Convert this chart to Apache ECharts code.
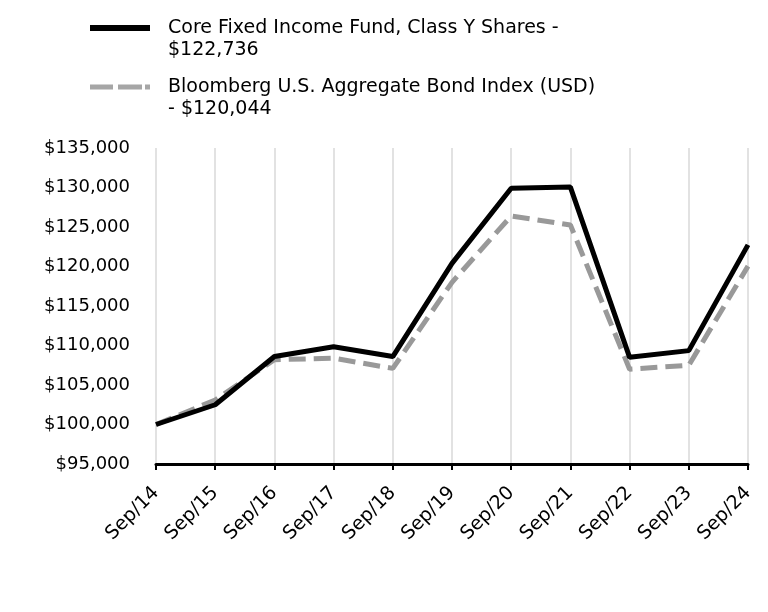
<!DOCTYPE html>
<html>
<head>
<meta charset="utf-8">
<script src="https://cdn.jsdelivr.net/npm/echarts@6/dist/echarts.min.js"></script>
<style>
  html, body { margin: 0; padding: 0; background: #fff; }
  #chart { width: 768px; height: 612px; }
</style>
</head>
<body>
<div id="chart"></div>
<script>
const years = ['Sep/14', 'Sep/15', 'Sep/16', 'Sep/17', 'Sep/18', 'Sep/19', 'Sep/20', 'Sep/21', 'Sep/22', 'Sep/23', 'Sep/24'];
const fundName = 'Core Fixed Income Fund, Class Y Shares - $122,736';
const indexName = 'Bloomberg U.S. Aggregate Bond Index (USD) - $120,044';
const fundValues = [100000, 102500, 108600, 109850, 108600, 120400, 129900, 130050, 108500, 109350, 122736];
const indexValues = [100000, 103100, 108200, 108400, 107100, 118000, 126400, 125250, 107000, 107500, 120044];

const FONT = 'DejaVu Sans';

// legend icons: bar at the first text line, tiny corner dots keep the box size
const BOX = 'M0,0H.01V.01H0Z M72.99,43.99H73V44H72.99Z ';
const solidIcon = 'path://' + BOX + 'M0,8H60V14H0Z';
const dashIcon = 'path://' + BOX + 'M0,8.5H23V13.5H0Z M28,8.5H52V13.5H28Z M55,8.5H60V13.5H55Z';

const chart = echarts.init(document.getElementById('chart'));
const option = {
  animation: false,
  textStyle: { fontFamily: FONT },
  legend: {
    orient: 'vertical',
    left: 85,
    top: 12,
    itemWidth: 73,
    itemHeight: 44,
    itemGap: 15,
    textStyle: { fontFamily: FONT, fontSize: 19, color: '#000', lineHeight: 22 },
    formatter: function (name) {
      if (name === fundName) return 'Core Fixed Income Fund, Class Y Shares -\n$122,736';
      return 'Bloomberg U.S. Aggregate Bond Index (USD)\n- $120,044';
    },
    data: [
      { name: fundName, icon: solidIcon, itemStyle: { color: '#000' } },
      { name: indexName, icon: dashIcon, itemStyle: { color: '#a6a6a6' } }
    ]
  },
  grid: { left: 156, right: 20, top: 148, bottom: 148, containLabel: false },
  xAxis: {
    type: 'category',
    boundaryGap: false,
    data: years,
    axisLine: { lineStyle: { color: '#000', width: 3 } },
    axisTick: { show: true, length: 6, lineStyle: { color: '#000', width: 2 } },
    splitLine: { show: true, lineStyle: { color: '#d9d9d9', width: 1.5 } },
    axisLabel: { rotate: 45, color: '#000', fontSize: 19, fontFamily: FONT, margin: 26 }
  },
  yAxis: {
    type: 'value',
    min: 95000,
    max: 135000,
    interval: 5000,
    axisLine: { show: false },
    axisTick: { show: false },
    splitLine: { show: false },
    axisLabel: {
      color: '#000',
      fontSize: 18,
      fontFamily: FONT,
      margin: 26,
      formatter: function (v) { return '$' + v.toLocaleString('en-US'); }
    }
  },
  series: [
    {
      name: indexName,
      type: 'line',
      data: indexValues,
      symbol: 'none',
      lineStyle: { color: '#999999', width: 5, type: [17, 8] },
      itemStyle: { color: '#999999' },
      z: 2
    },
    {
      name: fundName,
      type: 'line',
      data: fundValues,
      symbol: 'none',
      lineStyle: { color: '#000', width: 5 },
      itemStyle: { color: '#000' },
      z: 3
    }
  ]
};
chart.setOption(option);
</script>
</body>
</html>
